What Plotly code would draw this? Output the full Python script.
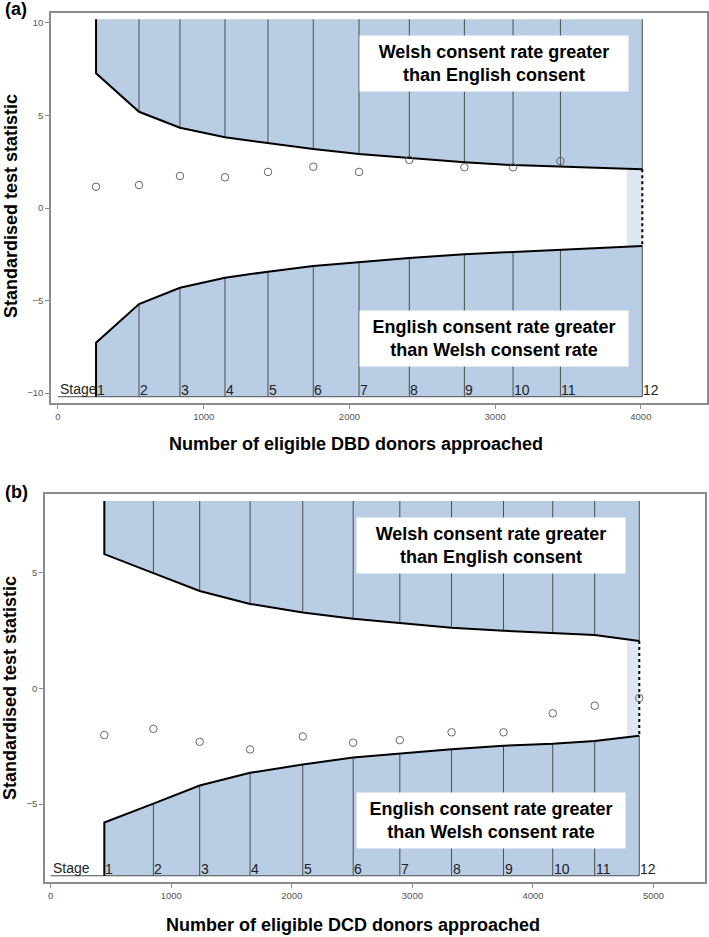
import plotly.graph_objects as go

W, H = 709, 937

FILL = "#b9cde5"
LIGHT = "#dde7f3"
STAGE_LINE = "#4d4d4d"
FRAME = "#8c8c8c"

# panel (a): DBD donors
dbd_n = [261, 556, 837, 1146, 1441, 1752, 2066, 2411, 2789, 3123, 3448, 4010]
dbd_upper = [7.28, 5.20, 4.34, 3.82, 3.50, 3.19, 2.92, 2.70, 2.47, 2.32, 2.23, 2.09]
dbd_lower = [-7.28, -5.19, -4.31, -3.77, -3.44, -3.14, -2.94, -2.70, -2.50, -2.38, -2.27, -2.05]
dbd_z = [1.15, 1.24, 1.73, 1.66, 1.95, 2.23, 1.95, 2.60, 2.20, 2.20, 2.54]
dbd_zone_start = 3903

# panel (b): DCD donors
dcd_n = [445, 852, 1236, 1654, 2091, 2509, 2896, 3325, 3756, 4164, 4512, 4882]
dcd_upper = [5.80, 4.98, 4.21, 3.65, 3.28, 3.01, 2.81, 2.62, 2.49, 2.38, 2.31, 2.05]
dcd_lower = [-5.80, -4.98, -4.20, -3.65, -3.29, -2.99, -2.81, -2.63, -2.48, -2.40, -2.28, -2.05]
dcd_z = [-2.02, -1.75, -2.31, -2.64, -2.08, -2.35, -2.24, -1.90, -1.90, -1.08, -0.75, -0.42]
dcd_zone_start = 4780

stage_labels = [str(s) for s in range(1, 13)]

fig = go.Figure()


def add_panel(xa, ya, n, upper, lower, z, zone_start, top, bottom):
    kw = dict(xaxis=xa, yaxis=ya, showlegend=False, hoverinfo="skip")
    # rejection regions
    fig.add_trace(go.Scatter(x=[n[0]] + n + [n[-1]], y=[top] + upper + [top],
                             fill="toself", fillcolor=FILL, mode="lines",
                             line=dict(width=0), **kw))
    fig.add_trace(go.Scatter(x=[n[0]] + n + [n[-1]], y=[bottom] + lower + [bottom],
                             fill="toself", fillcolor=FILL, mode="lines",
                             line=dict(width=0), **kw))
    # final stage zone
    fig.add_trace(go.Scatter(x=[zone_start, n[-1], n[-1], zone_start],
                             y=[upper[-1], upper[-1], lower[-1], lower[-1]],
                             fill="toself", fillcolor=LIGHT, mode="lines",
                             line=dict(width=0), **kw))
    # stage dividers
    vx, vy = [], []
    for k in range(1, len(n)):
        vx += [n[k], n[k], None, n[k], n[k], None]
        vy += [upper[k], top, None, lower[k], bottom, None]
    fig.add_trace(go.Scatter(x=vx, y=vy, mode="lines",
                             line=dict(color=STAGE_LINE, width=1), **kw))
    fig.add_trace(go.Scatter(x=[0, n[-1]], y=[bottom, bottom], mode="lines",
                             line=dict(color=STAGE_LINE, width=1), **kw))
    # boundaries
    fig.add_trace(go.Scatter(x=[n[0]] + n, y=[top] + upper, mode="lines",
                             line=dict(color="black", width=2), **kw))
    fig.add_trace(go.Scatter(x=[n[0]] + n, y=[bottom] + lower, mode="lines",
                             line=dict(color="black", width=2), **kw))
    fig.add_trace(go.Scatter(x=[n[-1], n[-1]], y=[upper[-1], lower[-1]], mode="lines",
                             line=dict(color="black", width=2, dash="dot"), **kw))
    # observed statistics
    fig.add_trace(go.Scatter(x=n[:len(z)], y=z, mode="markers",
                             marker=dict(symbol="circle-open", size=7.5, color="#666666",
                                         line=dict(width=1)), **kw))
    # stage labels
    fig.add_annotation(x=0, y=bottom, xref=xa, yref=ya, text="Stage", showarrow=False,
                       xanchor="left", yanchor="bottom", yshift=-2,
                       font=dict(size=14, color="#222"))
    for k, lab in enumerate(stage_labels):
        fig.add_annotation(x=n[k], y=bottom, xref=xa, yref=ya, text=lab, showarrow=False,
                           xanchor="left", yanchor="bottom", yshift=-3, xshift=-1,
                           font=dict(size=14, color="#222"))


add_panel("x", "y", dbd_n, dbd_upper, dbd_lower, dbd_z, dbd_zone_start, 10.2, -10.2)
add_panel("x2", "y2", dcd_n, dcd_upper, dcd_lower, dcd_z, dcd_zone_start, 8.1, -8.1)


def px(x):
    return x / W


def py(y):
    return 1 - y / H


def box(cx, cy, lines):
    fig.add_annotation(x=px(cx), y=py(cy), xref="paper", yref="paper",
                       xanchor="center", yanchor="middle",
                       text="<br>".join(lines), showarrow=False, align="center",
                       bgcolor="white", width=260, height=47, borderpad=4,
                       font=dict(size=18, color="black"))


up_txt = ["<b>Welsh consent rate greater</b>", "<b>than English consent</b>"]
lo_txt = ["<b>English consent rate greater</b>", "<b>than Welsh consent rate</b>"]
box(494, 63.5, up_txt)
box(494, 339, lo_txt)
box(491, 545, up_txt)
box(491, 820, lo_txt)

for txt, x, y, ang in [
    ("<b>(a)</b>", 16, 9, 0),
    ("<b>(b)</b>", 16, 492, 0),
    ("<b>Standardised test statistic</b>", 11, 206, -90),
    ("<b>Standardised test statistic</b>", 10, 688, -90),
    ("<b>Number of eligible DBD donors approached</b>", 356, 444, 0),
    ("<b>Number of eligible DCD donors approached</b>", 353, 925, 0),
]:
    fig.add_annotation(x=px(x), y=py(y), xref="paper", yref="paper", text=txt,
                       showarrow=False, textangle=ang, xanchor="center", yanchor="middle",
                       font=dict(size=18, color="black"))

axis_common = dict(showline=True, mirror=True, linecolor=FRAME, linewidth=1.5,
                   ticks="outside", ticklen=4, tickcolor=FRAME, showgrid=False,
                   zeroline=False, tickfont=dict(size=9.5, color="#555"))

fig.update_layout(
    width=W, height=H,
    margin=dict(l=0, r=0, t=0, b=0),
    paper_bgcolor="white", plot_bgcolor="white",
    font=dict(family="Arial, Liberation Sans, sans-serif"),
    xaxis=dict(domain=[px(51), px(707)], range=[-48, 4454], anchor="y",
               tickvals=[0, 1000, 2000, 3000, 4000], **axis_common),
    yaxis=dict(domain=[py(403), py(13)], range=[-10.54, 10.54], anchor="x",
               tickvals=[-10, -5, 0, 5, 10], **axis_common),
    xaxis2=dict(domain=[px(45), px(705)], range=[-47, 5427], anchor="y2",
                tickvals=[0, 1000, 2000, 3000, 4000, 5000], **axis_common),
    yaxis2=dict(domain=[py(882), py(494)], range=[-8.37, 8.4], anchor="x2",
                tickvals=[-5, 0, 5], **axis_common),
)

# the page's default body margin would shift the figure; remove it
fig.write_html("out.html", config={"displayModeBar": False},
               post_script="document.body.style.margin='0';")
